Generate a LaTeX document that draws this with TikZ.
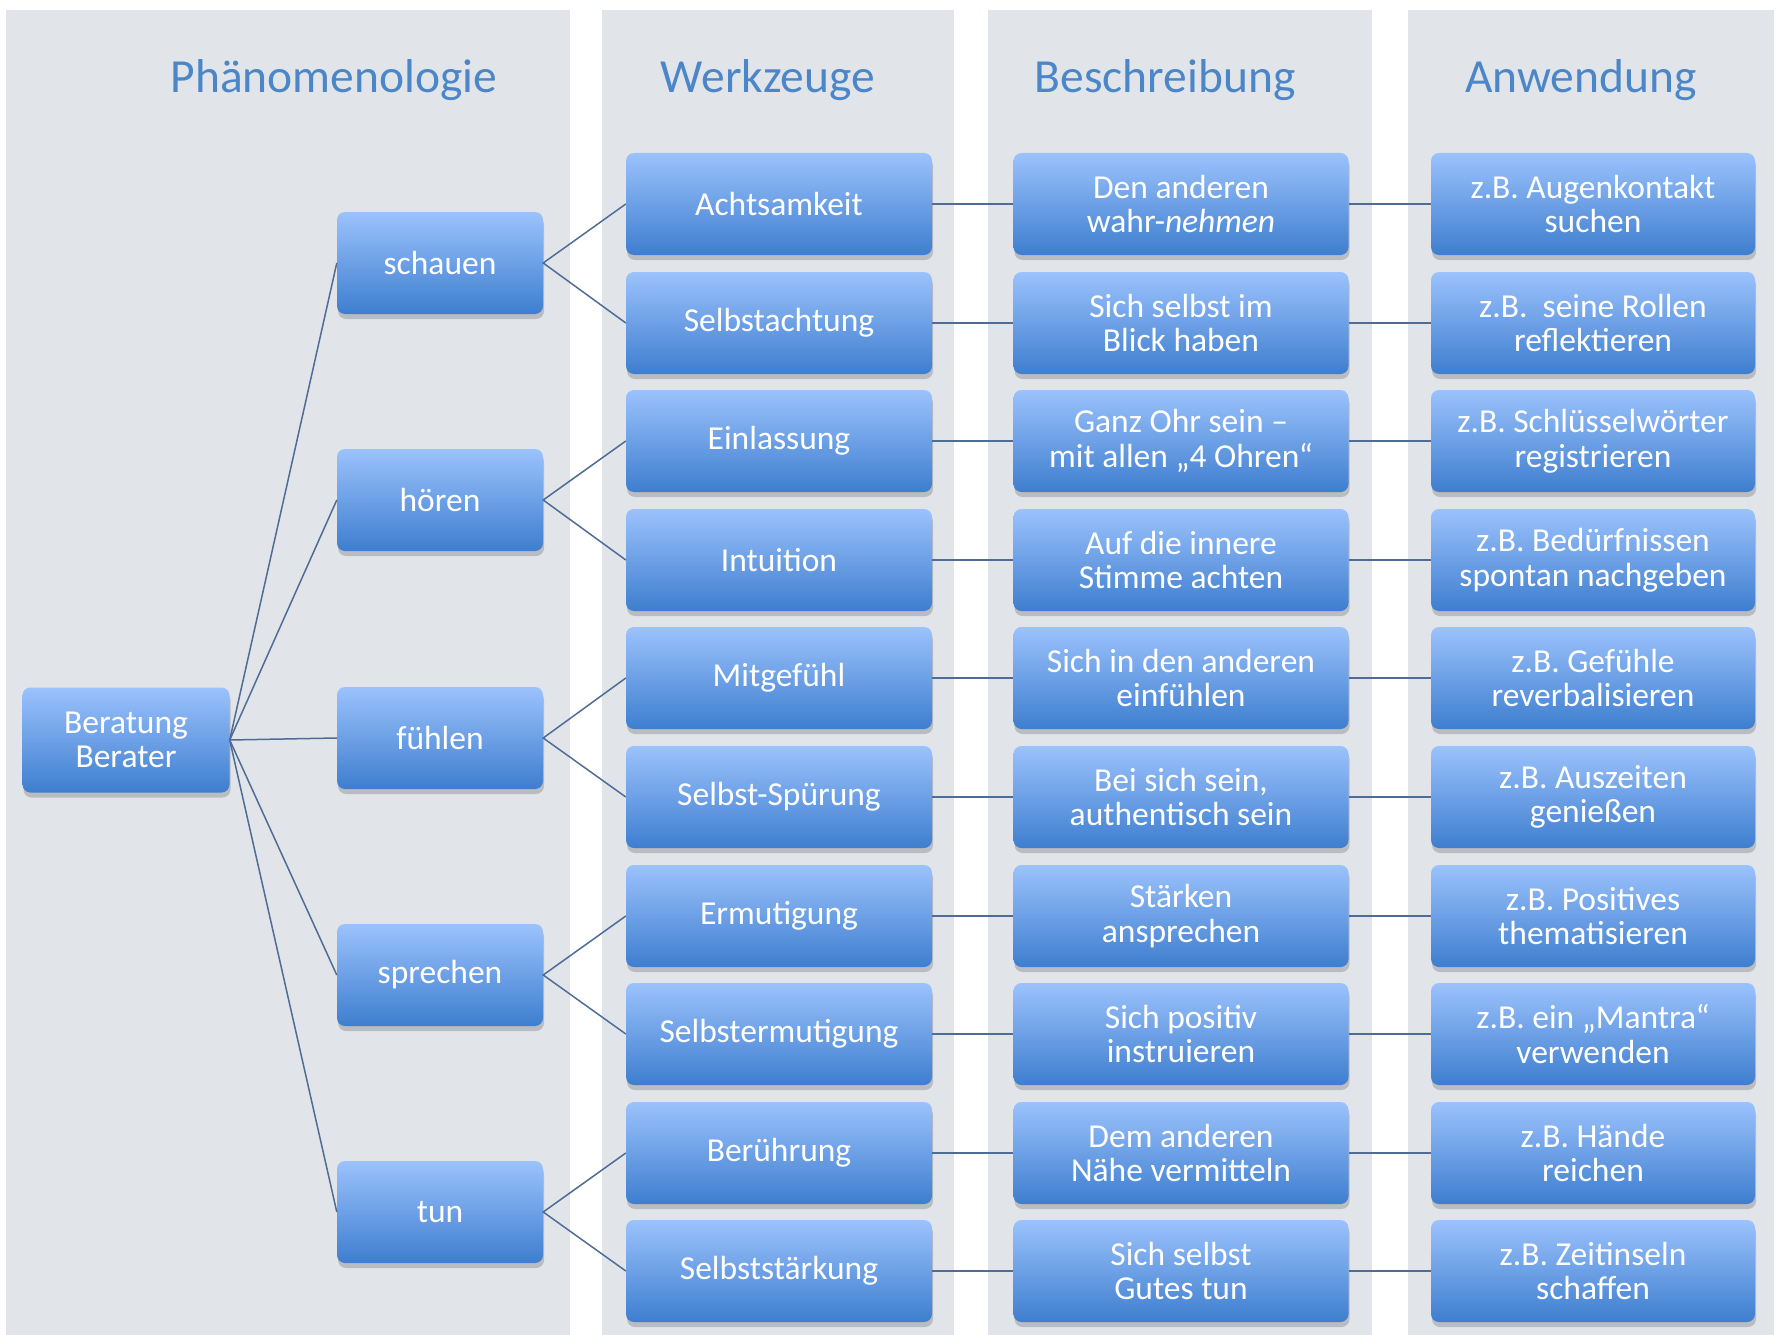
\documentclass[tikz,border=0pt]{standalone}
\usepackage{fontspec}
\setmainfont{Carlito}
\usetikzlibrary{shadows}

\definecolor{panel}{RGB}{225,229,234}
\definecolor{boxtop}{RGB}{155,194,252}
\definecolor{boxbot}{RGB}{62,126,207}
\definecolor{headblue}{RGB}{74,134,200}
\definecolor{linkblue}{RGB}{78,108,150}

\tikzset{
	box/.style = {rectangle, rounded corners = 8pt, top color = boxtop, bottom color = boxbot,
		text = white, align = center, minimum height = 102pt, inner sep = 2pt,
		font = \fontsize{33.5}{34.5}\selectfont,
		drop shadow = {shadow xshift = 1pt, shadow yshift = -5pt, opacity = 0.4}},
	head/.style = {text = headblue, font = \fontsize{47.5}{50}\selectfont},
	link/.style = {linkblue, line width = 1.5pt}
}

\begin{document}
\begin{tikzpicture}[x = 1pt, y = -1pt]

	% Page and column panels
	
	\fill [white] (0, 0) rectangle (1781, 1335);
	\useasboundingbox (0, 0) rectangle (1781, 1335);
	
	\begin{scope}[panel]
	
		\fill (6, 10) rectangle (570, 1335);
		\fill (602, 10) rectangle (954, 1335);
		\fill (988, 10) rectangle (1372, 1335);
		\fill (1408, 10) rectangle (1774, 1335);
		
	\end{scope}
	
	% Column titles
	
	\node [head] (hphaen) at (334, 80) {Phänomenologie};
	\node [head] (hwerk) at (768, 80) {Werkzeuge};
	\node [head] (hbeschr) at (1165, 80) {Beschreibung};
	\node [head] (hanw) at (1581, 80) {Anwendung};
	
	% Root and the five ways
	
	\node [box, minimum width = 207pt, minimum height = 105pt] (berat) at (126, 740) {Beratung\\Berater};
	
	\begin{scope}[every node/.append style = {box, minimum width = 206pt}]
	
		\node (schauen) at (440, 263) {schauen};
		\node (hoeren) at (440, 500) {hören};
		\node (fuehlen) at (440, 738) {fühlen};
		\node (sprechen) at (440, 975) {sprechen};
		\node (tun) at (440, 1212) {tun};
		
	\end{scope}
	
	% Werkzeuge
	
	\begin{scope}[every node/.append style = {box, minimum width = 306pt}]
	
		\node (w1) at (779, 204) {Achtsamkeit};
		\node (w2) at (779, 323) {Selbstachtung};
		\node (w3) at (779, 441) {Einlassung};
		\node (w4) at (779, 560) {Intuition};
		\node (w5) at (779, 678) {Mitgefühl};
		\node (w6) at (779, 797) {Selbst-Spürung};
		\node (w7) at (779, 916) {Ermutigung};
		\node (w8) at (779, 1034) {Selbstermutigung};
		\node (w9) at (779, 1153) {Berührung};
		\node (w10) at (779, 1271) {Selbststärkung};
		
	\end{scope}
	
	% Beschreibung
	
	\begin{scope}[every node/.append style = {box, minimum width = 335pt}]
	
		\node (b1) at (1181, 204) {Den anderen\\wahr-\textit{nehmen}};
		\node (b2) at (1181, 323) {Sich selbst im\\Blick haben};
		\node (b3) at (1181, 441) {Ganz Ohr sein –\\mit allen „4 Ohren“};
		\node (b4) at (1181, 560) {Auf die innere\\Stimme achten};
		\node (b5) at (1181, 678) {Sich in den anderen\\einfühlen};
		\node (b6) at (1181, 797) {Bei sich sein,\\authentisch sein};
		\node (b7) at (1181, 916) {Stärken\\ansprechen};
		\node (b8) at (1181, 1034) {Sich positiv\\instruieren};
		\node (b9) at (1181, 1153) {Dem anderen\\Nähe vermitteln};
		\node (b10) at (1181, 1271) {Sich selbst\\Gutes tun};
		
	\end{scope}
	
	% Anwendung
	
	\begin{scope}[every node/.append style = {box, minimum width = 324pt}]
	
		\node (a1) at (1593, 204) {z.B. Augenkontakt\\suchen};
		\node (a2) at (1593, 323) {z.B.\ \ seine Rollen\\reflektieren};
		\node (a3) at (1593, 441) {z.B. Schlüsselwörter\\registrieren};
		\node (a4) at (1593, 560) {z.B. Bedürfnissen\\spontan nachgeben};
		\node (a5) at (1593, 678) {z.B. Gefühle\\reverbalisieren};
		\node (a6) at (1593, 797) {z.B. Auszeiten\\genießen};
		\node (a7) at (1593, 916) {z.B. Positives\\thematisieren};
		\node (a8) at (1593, 1034) {z.B. ein „Mantra“\\verwenden};
		\node (a9) at (1593, 1153) {z.B. Hände\\reichen};
		\node (a10) at (1593, 1271) {z.B. Zeitinseln\\schaffen};
		
	\end{scope}
	
	% Links
	
	\begin{scope}[link]
	
		\foreach \p in {schauen, hoeren, fuehlen, sprechen, tun}
			\draw (berat.east) -- (\p.west);
			
		\foreach \p/\i/\j in {schauen/1/2, hoeren/3/4, fuehlen/5/6, sprechen/7/8, tun/9/10}
			\draw (w\i.west) -- (\p.east) -- (w\j.west);
			
		\foreach \i in {1, ..., 10} {
			\draw (w\i.east) -- (b\i.west);
			\draw (b\i.east) -- (a\i.west);
		}
		
	\end{scope}

\end{tikzpicture}
\end{document}
